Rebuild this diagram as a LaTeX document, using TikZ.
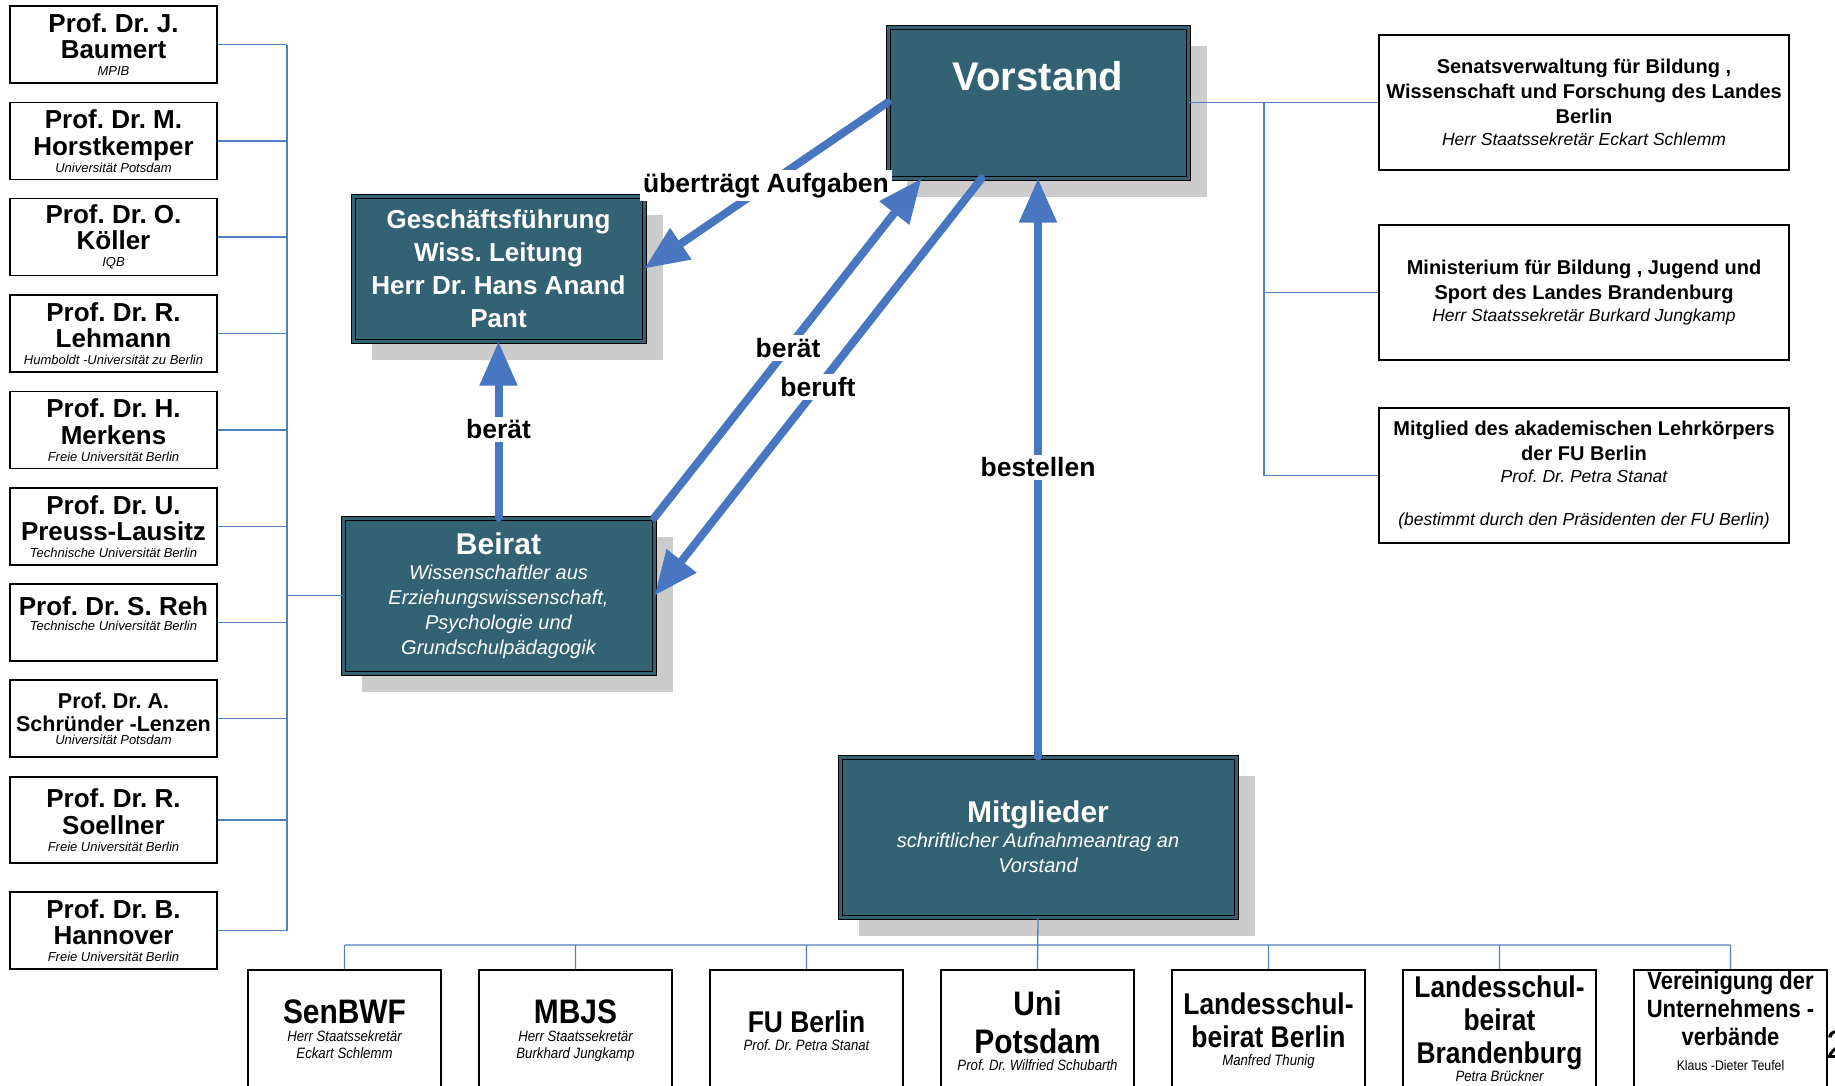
\documentclass[tikz,border=0pt]{standalone}
\usepackage{fontspec}
\setmainfont{Liberation Sans}
\newfontfamily\narrow[FakeStretch=0.88]{Liberation Sans}
\usetikzlibrary{arrows.meta,shadows}
\definecolor{petrol}{RGB}{52,98,117}
\definecolor{schatten}{RGB}{204,204,204}
\definecolor{pfeilblau}{RGB}{72,118,192}
\definecolor{linienblau}{RGB}{79,129,189}
\newcommand{\affil}[1]{{\normalfont\itshape\fontsize{13}{14}\selectfont #1}}
\newcommand{\amt}[1]{{\normalfont\itshape\fontsize{17.5}{21}\selectfont #1}}
\newcommand{\weiss}[1]{{\normalfont\itshape\fontsize{20}{24}\selectfont #1}}
\newcommand{\klein}[1]{{\normalfont\narrow\itshape\fontsize{15}{16.5}\selectfont #1}}
\frenchspacing

\begin{document}
\begin{tikzpicture}[x=1pt, y=-1pt,
    profbox/.style={draw, line width=1.5pt, fill=white, minimum width=207pt, minimum height=77pt, inner sep=1pt, align=center, font=\bfseries\fontsize{26}{26.5}\selectfont},
    amtbox/.style={draw, line width=1.5pt, fill=white, minimum width=410pt, minimum height=135pt, inner sep=1pt, align=center, font=\bfseries\fontsize{20}{25}\selectfont},
    gremium/.style={draw=black, line width=1pt, double=petrol, double distance=3pt, fill=petrol, text=white, align=center, inner sep=1pt,
        drop shadow={shadow xshift=19pt, shadow yshift=-19pt, fill=schatten, opacity=1}},
    unterbox/.style={draw, line width=1.5pt, fill=white, anchor=north, minimum width=193pt, minimum height=122pt, inner sep=1pt, align=center},
    pfeil/.style={pfeilblau, line width=8pt, line cap=round, -{Triangle[length=44pt, width=36pt]}},
    bus/.style={linienblau, line width=1.3pt},
    etikett/.style={fill=white, text=black, inner sep=3pt, font=\bfseries\fontsize{26.5}{30}\selectfont}]
        \useasboundingbox (0,0) rectangle (1835,1085);

        % Organi (riquadri scuri con ombra)
        \node[gremium, minimum width=300pt, minimum height=151pt, font=\bfseries\fontsize{40}{44}\selectfont, text depth=52pt] (vorstand) at (1038,102.5) {Vorstand};
        \node[gremium, minimum width=291pt, minimum height=145pt, font=\bfseries\fontsize{26}{33}\selectfont] (gf) at (498.5,268.5) {Geschäftsführung\\Wiss. Leitung\\Herr Dr. Hans Anand\\Pant};
        \node[gremium, minimum width=311pt, minimum height=155pt, font=\bfseries\fontsize{30}{25}\selectfont] (beirat) at (498.5,595.5) {Beirat\\\weiss{Wissenschaftler aus}\\\weiss{Erziehungswissenschaft,}\\\weiss{Psychologie und}\\\weiss{Grundschulpädagogik}};
        \node[gremium, minimum width=396pt, minimum height=160pt, font=\bfseries\fontsize{30}{25}\selectfont] (mitglieder) at (1038,837) {Mitglieder\\\weiss{schriftlicher Aufnahmeantrag an}\\\weiss{Vorstand}};

        % Membri del Beirat (colonna a sinistra)
        \node[profbox] (baumert) at (113.5,44.5) {Prof. Dr. J.\\Baumert\\[-9.5pt]\affil{MPIB}};
        \node[profbox] (horstkemper) at (113.5,141) {Prof. Dr. M.\\Horstkemper\\[-9.5pt]\affil{Universität Potsdam}};
        \node[profbox] (koeller) at (113.5,237) {Prof. Dr. O.\\Köller\\[-9.5pt]\affil{IQB}};
        \node[profbox] (lehmann) at (113.5,333.5) {Prof. Dr. R.\\Lehmann\\[-9.5pt]\affil{Humboldt -Universität zu Berlin}};
        \node[profbox] (merkens) at (113.5,430) {Prof. Dr. H.\\Merkens\\[-9.5pt]\affil{Freie Universität Berlin}};
        \node[profbox] (preuss) at (113.5,526.5) {Prof. Dr. U.\\Preuss-Lausitz\\[-9.5pt]\affil{Technische Universität Berlin}};
        \node[profbox] (reh) at (113.5,622.5) {Prof. Dr. S. Reh\\[-11.5pt]\affil{Technische Universität Berlin\rule[-18pt]{0pt}{18pt}}};
        \node[profbox, font=\bfseries\fontsize{21.5}{23}\selectfont] (schruender) at (113.5,718.5) {Prof. Dr. A.\\Schründer -Lenzen\\[-10pt]\affil{Universität Potsdam}};
        \node[profbox, minimum height=86pt] (soellner) at (113.5,820) {Prof. Dr. R.\\Soellner\\[-9.5pt]\affil{Freie Universität Berlin}};
        \node[profbox] (hannover) at (113.5,930.5) {Prof. Dr. B.\\Hannover\\[-9.5pt]\affil{Freie Universität Berlin}};

        % Enti a destra
        \node[amtbox] (senat) at (1584,102.5) {Senatsverwaltung für Bildung ,\\Wissenschaft und Forschung des Landes\\Berlin\\[-3pt]\amt{Herr Staatssekretär Eckart Schlemm}};
        \node[amtbox] (minis) at (1584,292.5) {Ministerium für Bildung , Jugend und\\Sport des Landes Brandenburg\\[-3pt]\amt{Herr Staatssekretär Burkard Jungkamp}};
        \node[amtbox] (fuberlin) at (1584,475.5) {Mitglied des akademischen Lehrkörpers\\der FU Berlin\\[-3pt]\amt{Prof. Dr. Petra Stanat}\\[18pt]\amt{(bestimmt durch den Präsidenten der FU Berlin)}};

        % Mitglieder (riga in basso, tagliata dal bordo)
        \node[unterbox, font=\narrow\bfseries\fontsize{34}{38}\selectfont] (senbwf) at (344.5,969) {SenBWF\\[-20pt]\klein{Herr Staatssekretär}\\[-21.5pt]\klein{Eckart Schlemm}\rule[-3pt]{0pt}{3pt}};
        \node[unterbox, font=\narrow\bfseries\fontsize{34}{38}\selectfont] (mbjs) at (575.5,969) {MBJS\\[-20pt]\klein{Herr Staatssekretär}\\[-21.5pt]\klein{Burkhard Jungkamp}};
        \node[unterbox, font=\narrow\bfseries\fontsize{30}{33}\selectfont] (fu) at (806.5,969) {FU Berlin\\[-15pt]\klein{Prof. Dr. Petra Stanat}};
        \node[unterbox, font=\narrow\bfseries\fontsize{34}{38.5}\selectfont] (uni) at (1037.5,969) {Uni\\Potsdam\\[-21.5pt]\klein{Prof. Dr. Wilfried Schubarth}};
        \node[unterbox, font=\narrow\bfseries\fontsize{30}{33}\selectfont] (lsbberlin) at (1268.5,969) {Landesschul-\\beirat Berlin\\[-15pt]\klein{Manfred Thunig}};
        \node[unterbox, font=\narrow\bfseries\fontsize{30}{33}\selectfont] (lsbbrand) at (1499.5,969) {Landesschul-\\beirat\\Brandenburg\\[-15pt]\klein{Petra Brückner\rule[-5pt]{0pt}{5pt}}};
        \node[unterbox, font=\narrow\bfseries\fontsize{25}{28}\selectfont] (vereinigung) at (1730.5,969) {Vereinigung der\\Unternehmens -\\verbände\\[-3pt]{\normalfont\narrow\fontsize{14}{16}\selectfont Klaus -Dieter Teufel\rule[-20pt]{0pt}{20pt}}};
        \node[anchor=west, inner sep=0pt, font=\fontsize{40}{44}\selectfont] (seite) at (1826,1045) {2};

        % Linee di collegamento sottili
        \coordinate (lbus) at (287,0);
        \coordinate (rbus) at (1264,0);
        \coordinate (ubus) at (0,945);
        \draw[bus] (baumert.east -| lbus) -- (hannover.east -| lbus)
            (baumert.east) -- (baumert.east -| lbus) (horstkemper.east) -- (horstkemper.east -| lbus)
            (koeller.east) -- (koeller.east -| lbus) (lehmann.east) -- (lehmann.east -| lbus)
            (merkens.east) -- (merkens.east -| lbus) (preuss.east) -- (preuss.east -| lbus)
            (reh.east) -- (reh.east -| lbus) (schruender.east) -- (schruender.east -| lbus)
            (soellner.east) -- (soellner.east -| lbus) (hannover.east) -- (hannover.east -| lbus)
            (beirat.west) -- (beirat.west -| lbus);
        \draw[bus] (vorstand.east) -- (senat.west)
            (vorstand.east -| rbus) |- (minis.west)
            (vorstand.east -| rbus) |- (fuberlin.west);
        \draw[bus] (mitglieder.south) -- (uni.north)
            (senbwf.north |- ubus) -- (vereinigung.north |- ubus)
            (senbwf.north) -- (senbwf.north |- ubus) (mbjs.north) -- (mbjs.north |- ubus)
            (fu.north) -- (fu.north |- ubus) (lsbberlin.north) -- (lsbberlin.north |- ubus)
            (lsbbrand.north) -- (lsbbrand.north |- ubus) (vereinigung.north) -- (vereinigung.north |- ubus);

        % Frecce spesse con etichette
        \draw[pfeil] (vorstand.west) -- node[etikett] {überträgt Aufgaben} (gf.east);
        \draw[pfeil] (beirat.north east) -- node[etikett] {berät} ([xshift=34pt]vorstand.south west);
        \draw[pfeil] ([xshift=94pt]vorstand.south west) -- node[etikett] {beruft} (beirat.east);
        \draw[pfeil] (beirat.north) -- node[etikett] {berät} (gf.south);
        \draw[pfeil] (mitglieder.north) -- node[etikett] {bestellen} (vorstand.south);
    \end{tikzpicture}
\end{document}
